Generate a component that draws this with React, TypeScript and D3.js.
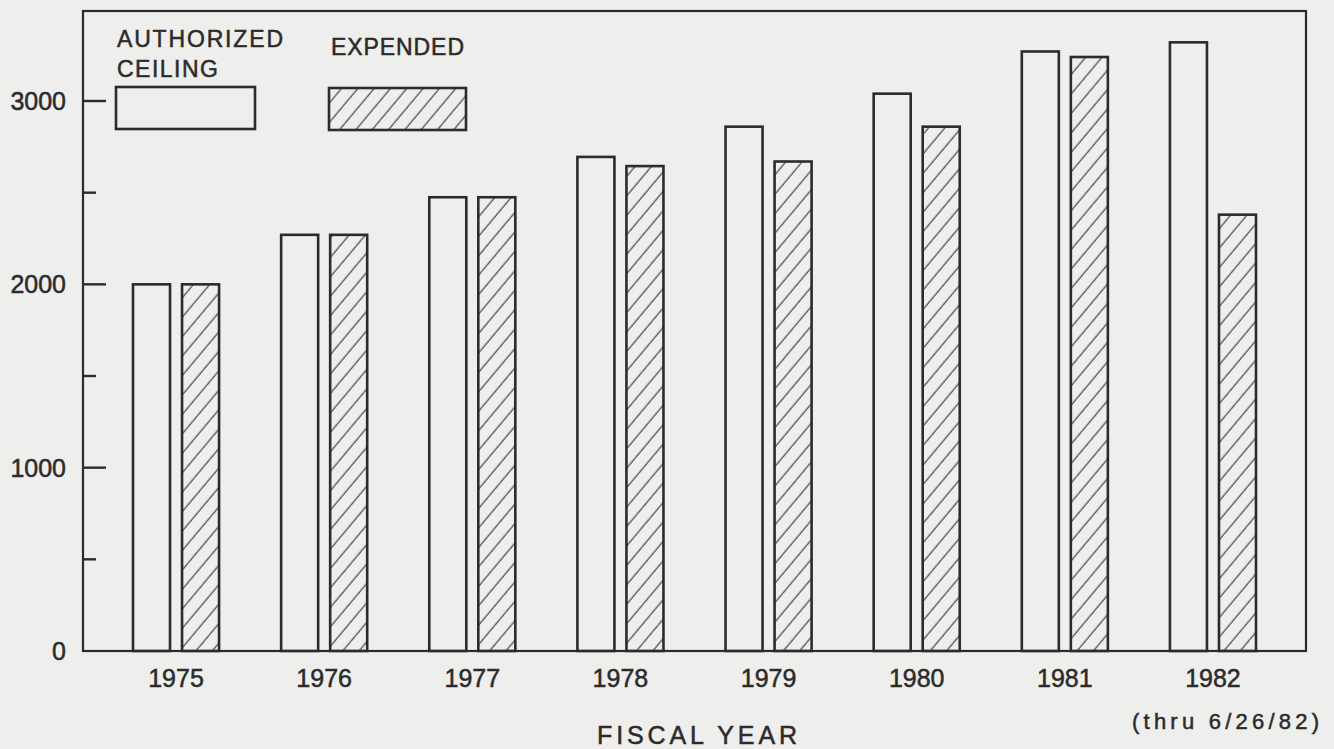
import React from "react";
import * as d3 from "d3";

const years = ["1975", "1976", "1977", "1978", "1979", "1980", "1981", "1982"];
const authorized = [2000, 2270, 2475, 2695, 2860, 3040, 3270, 3320];
const expended = [2000, 2270, 2475, 2645, 2670, 2860, 3240, 2380];
const majorTicks = [0, 1000, 2000, 3000];
const minorTicks = [500, 1500, 2500];
const seriesKeys = ["authorized", "expended"];
const legendLabels = { authorized: ["AUTHORIZED", "CEILING"], expended: ["EXPENDED"] };
const xTitle = "FISCAL YEAR";
const note = "(thru 6/26/82)";

const W = 1334;
const H = 749;
const BG = "#eeeeec";
const INK = "#2b2b2b";
const FONT = "'Liberation Sans', Arial, Helvetica, sans-serif";
const textStyle = { stroke: INK, strokeWidth: 0.5 };

export default function App() {
  const left = 83, right = 1306, top = 11, bottom = 651;
  const y = d3.scaleLinear().domain([0, 3000]).range([bottom, 101]);
  const x = d3.scaleBand<string>().domain(years).range([left, right]).paddingInner(0).paddingOuter(0.128);
  const xs = d3.scaleBand<string>().domain(seriesKeys).range([0, x.bandwidth()]).paddingInner(0.245).paddingOuter(0.633);
  const bw = xs.bandwidth();

  return (
    <svg width={W} height={H} style={{ position: "absolute", left: 0, top: 0, display: "block" }}>
      <defs>
        <pattern id="hatch" patternUnits="userSpaceOnUse" width={12.5} height={12.5} patternTransform="rotate(40)">
          <line x1={6} y1={0} x2={6} y2={12.5} stroke="#444" strokeWidth={1.2} />
        </pattern>
      </defs>
      <rect x={0} y={0} width={W} height={H} fill={BG} />

      {/* bars */}
      {years.map((yr, i) => {
        const x0 = x(yr)!;
        return (
          <g key={yr}>
            <rect x={x0 + xs("authorized")!} y={y(authorized[i])} width={bw} height={bottom - y(authorized[i])}
              fill={BG} stroke={INK} strokeWidth={2.6} />
            <rect x={x0 + xs("expended")!} y={y(expended[i])} width={bw} height={bottom - y(expended[i])}
              fill="url(#hatch)" stroke={INK} strokeWidth={2.6} />
          </g>
        );
      })}

      {/* frame */}
      <rect x={left} y={top} width={right - left} height={bottom - top} fill="none" stroke={INK} strokeWidth={2.2} />

      {/* y ticks */}
      {majorTicks.map((t) => (
        <g key={t}>
          {t > 0 && <line x1={left} x2={left + 23} y1={y(t)} y2={y(t)} stroke={INK} strokeWidth={2.4} />}
          <text x={66} y={y(t)} dy="0.36em" textAnchor="end" fontFamily={FONT} fontSize={25} fill={INK} style={textStyle}>
            {t}
          </text>
        </g>
      ))}
      {minorTicks.map((t) => (
        <line key={t} x1={left} x2={left + 13} y1={y(t)} y2={y(t)} stroke={INK} strokeWidth={2.4} />
      ))}

      {/* x labels */}
      {years.map((yr) => (
        <text key={yr} x={x(yr)! + x.bandwidth() / 2} y={687} textAnchor="middle" fontFamily={FONT} fontSize={25} fill={INK} style={textStyle}>
          {yr}
        </text>
      ))}
      <text x={597} y={744} fontFamily={FONT} fontSize={25} fill={INK} style={textStyle} textLength={200} lengthAdjust="spacing">
        {xTitle}
      </text>
      <text x={1132} y={729} fontFamily={FONT} fontSize={22} fill={INK} style={textStyle} textLength={187} lengthAdjust="spacing">
        {note}
      </text>

      {/* legend */}
      <text x={117} y={47} fontFamily={FONT} fontSize={23} fill={INK} style={textStyle} textLength={166} lengthAdjust="spacing">
        {legendLabels.authorized[0]}
      </text>
      <text x={117} y={77} fontFamily={FONT} fontSize={23} fill={INK} style={textStyle} textLength={101} lengthAdjust="spacing">
        {legendLabels.authorized[1]}
      </text>
      <rect x={116} y={87} width={139} height={42} fill={BG} stroke={INK} strokeWidth={2.6} />
      <text x={331} y={55} fontFamily={FONT} fontSize={23} fill={INK} style={textStyle} textLength={133} lengthAdjust="spacing">
        {legendLabels.expended[0]}
      </text>
      <rect x={329} y={88} width={137} height={42} fill="url(#hatch)" stroke={INK} strokeWidth={2.6} />
    </svg>
  );
}
